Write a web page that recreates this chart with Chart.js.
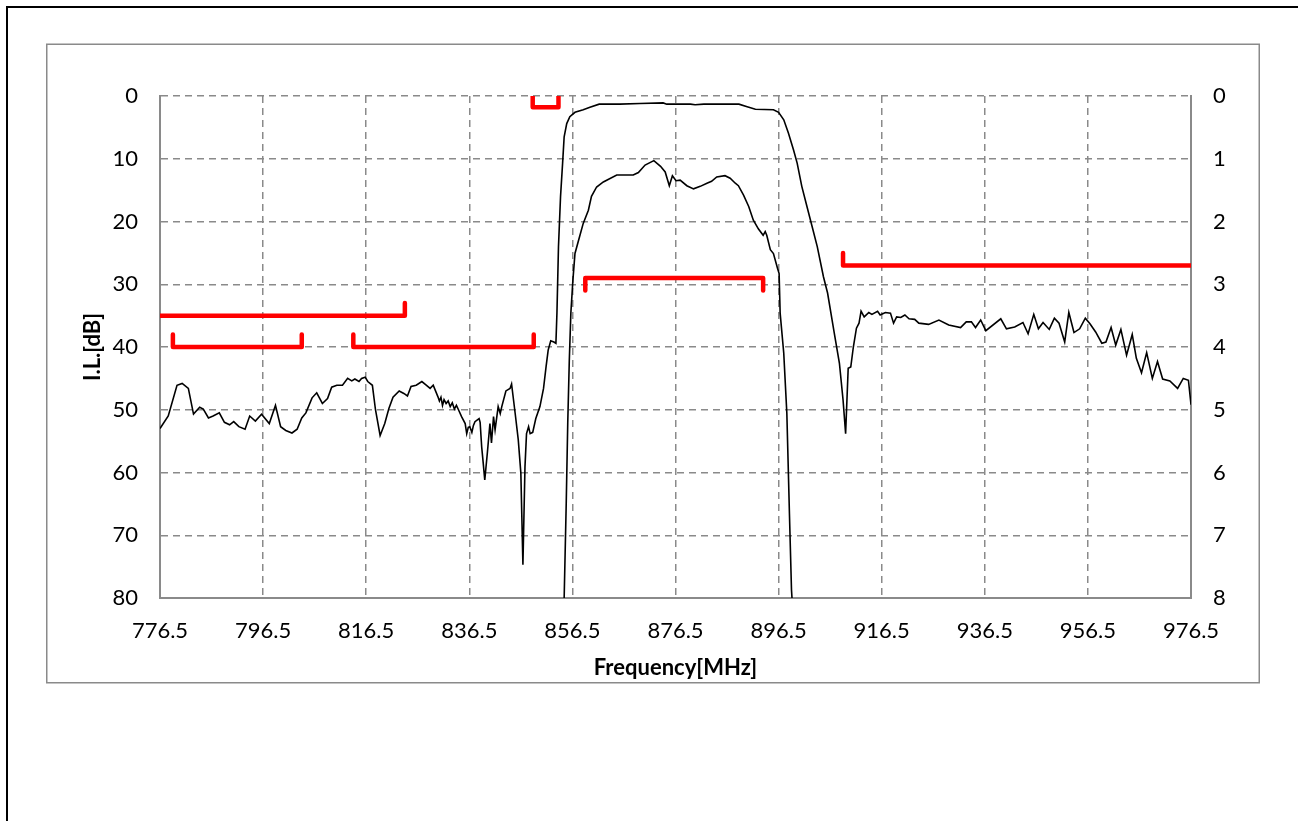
<!DOCTYPE html>
<html>
<head>
<meta charset="utf-8">
<script src="https://cdn.jsdelivr.net/npm/chart.js@4.4.1/dist/chart.umd.min.js"></script>
<style>
  html, body { margin: 0; padding: 0; background: #fff; overflow: hidden; }
  canvas { display: block; }
</style>
</head>
<body>
<canvas id="chart" width="1298" height="821"></canvas>
<script>
// Eje X (MHz)
const freqTicks = [776.5, 796.5, 816.5, 836.5, 856.5, 876.5, 896.5, 916.5, 936.5, 956.5, 976.5];

// Curva de banda ancha (eje izquierdo, dB)
const wideFreq = [776.5, 778.1, 779.8, 780.8, 782.0, 783.0, 784.2, 784.9, 785.9, 786.8, 788.0, 789.0, 790.0, 790.8, 791.8, 793.0, 793.9, 795.0, 796.2, 797.7, 798.9, 799.9, 800.9, 802.1, 803.1, 804.0, 804.8, 806.0, 806.9, 808.0, 809.0, 809.8, 810.8, 811.9, 812.9, 813.7, 814.3, 815.1, 815.6, 816.3, 816.8, 817.7, 818.3, 819.2, 820.1, 820.9, 821.7, 822.9, 823.8, 824.5, 825.2, 826.2, 827.3, 828.2, 828.9, 829.5, 830.4, 830.7, 831.0, 831.3, 831.6, 832.0, 832.4, 832.8, 833.2, 833.6, 834.0, 834.4, 835.0, 835.7, 836.0, 836.3, 836.6, 837.0, 837.3, 837.6, 838.4, 838.6, 838.9, 839.2, 839.5, 840.0, 840.5, 840.8, 841.2, 841.5, 842.1, 842.5, 842.8, 843.6, 844.4, 844.7, 845.4, 846.0, 846.5, 846.9, 847.3, 847.6, 848.0, 848.3, 848.8, 849.4, 850.2, 850.9, 851.4, 851.8, 852.3, 852.9, 853.3, 853.5, 853.8, 854.2, 854.6, 854.9, 855.4, 856.0, 857.0, 858.6, 859.9, 861.7, 865.7, 869.6, 874.1, 874.8, 879.4, 880.3, 882.0, 888.8, 890.4, 892.0, 895.5, 896.5, 897.5, 898.4, 899.4, 900.1, 901.0, 902.0, 903.0, 904.0, 905.2, 906.0, 907.3, 908.3, 909.0, 909.5, 910.0, 910.5, 911.0, 911.6, 912.1, 912.5, 913.1, 914.0, 914.6, 915.7, 916.2, 917.2, 918.2, 918.8, 919.4, 920.2, 921.0, 921.8, 922.9, 923.7, 925.6, 927.6, 929.5, 931.8, 932.9, 933.9, 934.7, 935.7, 936.7, 939.6, 940.7, 942.3, 943.9, 944.9, 946.0, 946.9, 947.8, 949.0, 950.0, 950.9, 952.0, 952.8, 953.8, 954.9, 956.0, 956.9, 958.0, 959.2, 960.0, 961.0, 961.9, 962.9, 964.0, 965.1, 965.9, 966.9, 967.9, 969.0, 970.0, 971.0, 972.4, 973.9, 975.0, 976.0, 976.5];
const wideIL = [53.0, 51.0, 46.1, 45.8, 46.6, 50.7, 49.6, 49.9, 51.3, 51.0, 50.5, 52.0, 52.4, 51.9, 52.7, 53.1, 51.0, 51.8, 50.7, 52.2, 49.3, 52.7, 53.3, 53.7, 53.1, 51.3, 50.5, 48.1, 47.3, 49.0, 48.2, 46.4, 46.1, 46.1, 45.0, 45.4, 45.1, 45.5, 45.0, 44.8, 45.5, 46.1, 50.0, 54.1, 52.2, 49.8, 48.0, 47.0, 47.4, 47.8, 46.3, 46.1, 45.5, 46.1, 46.6, 46.1, 47.9, 48.6, 48.0, 49.3, 48.4, 49.0, 48.6, 49.5, 48.9, 49.9, 49.3, 50.0, 51.1, 52.2, 53.8, 52.8, 52.7, 53.6, 52.5, 51.9, 51.4, 52.0, 55.9, 58.5, 61.2, 56.9, 52.2, 55.3, 51.1, 53.2, 49.5, 50.6, 49.5, 47.0, 46.6, 45.9, 50.6, 54.8, 60.1, 74.7, 59.1, 53.8, 52.7, 53.8, 53.6, 51.4, 49.5, 46.6, 43.1, 40.5, 39.0, 39.2, 39.4, 34.6, 24.0, 16.0, 10.7, 6.5, 4.4, 3.3, 2.6, 2.2, 1.8, 1.3, 1.3, 1.2, 1.1, 1.3, 1.3, 1.4, 1.3, 1.3, 1.7, 2.1, 2.2, 2.6, 3.8, 5.9, 8.6, 10.7, 14.4, 17.6, 20.8, 24.0, 28.8, 31.4, 37.8, 42.6, 48.4, 53.8, 43.4, 43.2, 40.0, 37.0, 36.2, 34.3, 35.2, 34.5, 34.8, 34.3, 34.9, 34.5, 34.6, 36.2, 35.2, 35.3, 34.9, 35.5, 35.6, 36.2, 36.4, 35.7, 36.5, 36.9, 36.0, 36.0, 36.9, 35.7, 37.4, 35.5, 37.1, 36.8, 36.1, 37.9, 34.8, 37.1, 36.1, 37.2, 35.4, 36.2, 39.2, 34.5, 37.7, 37.1, 35.4, 36.3, 37.6, 39.4, 39.2, 36.9, 39.7, 37.2, 41.3, 38.0, 41.8, 44.1, 40.9, 45.0, 42.3, 45.1, 45.4, 46.6, 45.0, 45.3, 49.2];

// Curva de banda de paso (eje derecho, dB)
const passFreq = [854.9, 855.3, 855.6, 855.9, 856.2, 856.6, 857.0, 857.9, 858.6, 859.6, 860.2, 861.2, 862.5, 865.1, 868.3, 869.3, 870.6, 872.3, 873.6, 874.5, 875.3, 875.9, 876.6, 877.4, 878.7, 880.0, 881.3, 882.6, 883.5, 884.5, 886.1, 887.1, 888.1, 888.7, 889.7, 890.7, 891.6, 892.6, 893.5, 893.9, 894.2, 894.9, 895.5, 896.3, 896.6, 896.8, 897.5, 898.1, 898.6, 899.0, 899.1];
const passIL = [8.0, 6.5, 5.2, 4.21, 3.46, 2.93, 2.51, 2.24, 2.03, 1.82, 1.60, 1.45, 1.37, 1.26, 1.26, 1.22, 1.10, 1.03, 1.12, 1.21, 1.43, 1.27, 1.35, 1.34, 1.43, 1.48, 1.44, 1.39, 1.36, 1.29, 1.27, 1.31, 1.39, 1.43, 1.58, 1.76, 1.98, 2.12, 2.22, 2.16, 2.22, 2.45, 2.51, 2.75, 2.83, 3.46, 4.10, 5.06, 6.65, 7.87, 8.0];

// Máscaras de especificación (eje izquierdo, dB)
const spec1Freq = [776.5, 824.0, 824.0];
const spec1IL = [35, 35, 33];
const spec2Freq = [779.0, 779.0, 804.0, 804.0];
const spec2IL = [38, 40, 40, 38];
const spec3Freq = [814.0, 814.0, 849.0, 849.0];
const spec3IL = [38, 40, 40, 38];
const spec4Freq = [848.8, 848.8, 853.8, 853.8];
const spec4IL = [0, 1.8, 1.8, 0];
const spec5Freq = [859.0, 859.0, 893.5, 893.5];
const spec5IL = [31, 29, 29, 31];
const spec6Freq = [909.0, 909.0, 976.5];
const spec6IL = [25, 27, 27];

const toXY = (xs, ys) => xs.map((x, i) => ({ x: x, y: ys[i] }));

const GRID = '#8a8a8a';
const FONT = 'Lato, "Open Sans", sans-serif';

// Marco exterior y recuadro gris del gráfico
const framePlugin = {
    id: 'frame',
    beforeDraw(chart) {
        const ctx = chart.ctx;
        ctx.save();
        ctx.fillStyle = '#000';
        ctx.fillRect(6, 6, chart.width - 6, 2);
        ctx.fillRect(6, 6, 2, chart.height - 6);
        ctx.strokeStyle = GRID;
        ctx.lineWidth = 1.5;
        ctx.strokeRect(46.75, 44.25, 1212.5, 638.5);
        ctx.restore();
    }
};

const redLine = (xs, ys) => ({
    data: toXY(xs, ys),
    yAxisID: 'y',
    borderColor: '#ff0000',
    borderWidth: 4.5,
    borderCapStyle: 'round',
    borderJoinStyle: 'round',
    pointRadius: 0,
    tension: 0
});

new Chart(document.getElementById('chart'), {
    type: 'line',
    data: {
        datasets: [
            redLine(spec1Freq, spec1IL),
            redLine(spec2Freq, spec2IL),
            redLine(spec3Freq, spec3IL),
            redLine(spec4Freq, spec4IL),
            redLine(spec5Freq, spec5IL),
            redLine(spec6Freq, spec6IL),
            {
                data: toXY(wideFreq, wideIL),
                yAxisID: 'y',
                borderColor: '#000',
                borderWidth: 1.6,
                pointRadius: 0,
                tension: 0
            },
            {
                data: toXY(passFreq, passIL),
                yAxisID: 'y2',
                borderColor: '#000',
                borderWidth: 1.6,
                pointRadius: 0,
                tension: 0
            }
        ]
    },
    plugins: [framePlugin],
    options: {
        responsive: false,
        animation: false,
        events: [],
        layout: { padding: { left: 47, top: 96, right: 39, bottom: 138 } },
        plugins: { legend: { display: false }, tooltip: { enabled: false } },
        scales: {
            x: {
                type: 'linear',
                min: 776.5,
                max: 976.5,
                afterBuildTicks: (scale) => { scale.ticks = freqTicks.map(v => ({ value: v })); },
                afterFit: (scale) => { scale.height = 85; },
                grid: { color: GRID, lineWidth: 1.5, drawTicks: false },
                border: { display: true, color: GRID, width: 2, dash: [7, 5] },
                ticks: { color: '#000', padding: 20, maxRotation: 0, autoSkip: false,
                         font: { family: FONT, size: 22 }, callback: v => String(v) },
                title: { display: true, text: 'Frequency[MHz]', color: '#000',
                         font: { family: FONT, size: 22, weight: 'bold' }, padding: { top: 0, bottom: 2 } }
            },
            y: {
                position: 'left',
                reverse: true,
                min: 0,
                max: 80,
                afterFit: (scale) => { scale.width = 113; },
                grid: { color: GRID, lineWidth: 1.5, drawTicks: false },
                border: { display: true, color: GRID, width: 2, dash: [7, 5] },
                ticks: { stepSize: 10, color: '#000', padding: 22, font: { family: FONT, size: 22 } },
                title: { display: true, text: 'I.L.[dB]', color: '#000',
                         font: { family: FONT, size: 22, weight: 'bold' }, padding: { top: 33, bottom: 0 } }
            },
            y2: {
                position: 'right',
                reverse: true,
                min: 0,
                max: 8,
                afterFit: (scale) => { scale.width = 68; },
                grid: { drawOnChartArea: false, drawTicks: false },
                border: { display: true, color: GRID, width: 2 },
                ticks: { stepSize: 1, color: '#000', padding: 22, font: { family: FONT, size: 22 } }
            }
        }
    }
});
</script>
</body>
</html>
